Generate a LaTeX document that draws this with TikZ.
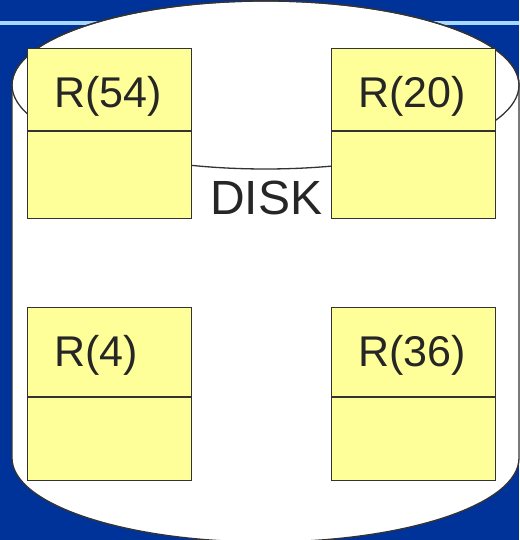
\documentclass[tikz,border=0pt]{standalone}
\usepackage{fontspec}
\setmainfont{Liberation Sans}
\definecolor{slideblue}{HTML}{003399}
\definecolor{stripe}{HTML}{A8D8FF}
\definecolor{note}{HTML}{FFFF99}
\definecolor{ink}{HTML}{333333}
\begin{document}
\begin{tikzpicture}[x=1pt,y=1pt,
  cell/.style={draw=ink, line width=1.1pt, fill=note, inner sep=0pt,
    minimum width=164pt, anchor=north west},
  rec/.style={font=\fontsize{43}{43}\selectfont, text=black!85, inner sep=0pt, anchor=base west},
  disk/.style={draw=ink, line width=1.3pt}]
  % slide background
  \fill[slideblue] (0,0) rectangle (519,540);
  \useasboundingbox (0,0) rectangle (519,540);
  \fill[stripe] (0,515) rectangle (519,519);
  % disk cylinder
  \path[disk, fill=white] (12,455) -- (12,82) arc (180:360:253.5 and 84)
    -- (519,455) arc (0:180:253.5 and 84) -- cycle;
  \draw[disk] (265.5,455) ellipse (253.5 and 84);
  \node[font=\fontsize{48}{48}\selectfont, text=black!85, inner sep=0pt, anchor=base west]
    (disklabel) at (210,325) {DISK};
  % record blocks: heading part and empty data part
  \foreach \nm/\x/\y/\t/\hh/\lh in {a/27/492/54/82/87, b/331/492/20/82/87,
                                    c/27/233/4/89/83, d/331/233/36/89/83}{
    \node[cell, minimum height=\hh pt] (\nm top) at (\x,\y) {};
    \node[cell, minimum height=\lh pt] (\nm low) at (\nm top.south west) {};
    \draw[ink, line width=1pt] (\nm low.south) -- ++(0,1.5);
    \node[rec] (\nm lab) at ([xshift=27pt,yshift=-60pt]\nm top.north west) {R(\t)};
  }
\end{tikzpicture}
\end{document}
